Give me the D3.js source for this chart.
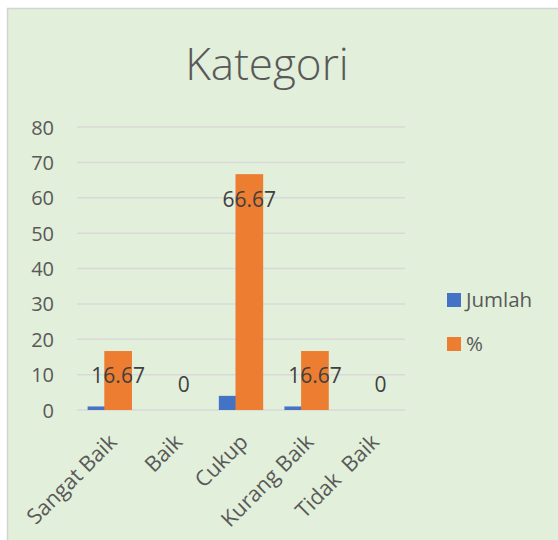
<!DOCTYPE html>
<html><head><meta charset="utf-8">
<script src="https://cdn.jsdelivr.net/npm/d3@7"></script>
<style>
html,body{margin:0;padding:0;background:#fff;}
svg{display:block;}
text{font-family:"Open Sans","Segoe UI",sans-serif;}
</style></head>
<body>
<script>
const categories = ["Sangat Baik","Baik","Cukup","Kurang Baik","Tidak  Baik"];
const jumlah = [1,0,4,1,0];
const persen = [16.67,0,66.67,16.67,0];
const seriesNames = ["Jumlah","%"];
const seriesColors = ["#4472C4","#ED7D31"];
const yTicks = [0,10,20,30,40,50,60,70,80];
const title = "Kategori";

const W=558,H=540;
const svg=d3.select("body").append("svg").attr("width",W).attr("height",H);
svg.append("rect").attr("x",7.5).attr("y",8.5).attr("width",W).attr("height",H)
  .attr("fill","#E2EFDA").attr("stroke","#D4D4D4").attr("stroke-width",1.5);

svg.append("text").attr("x",267).attr("y",80).attr("text-anchor","middle")
  .attr("font-size",44).attr("font-weight",300).attr("fill","#595959").text(title);

const plot={l:77,r:405,t:127,b:410};
const x=d3.scaleBand().domain(categories).range([plot.l,plot.r]).paddingInner(0).paddingOuter(0);
const y=d3.scaleLinear().domain([0,80]).range([plot.b,plot.t]);

const g=svg.append("g");
g.selectAll("line.grid").data(yTicks).join("line").attr("class","grid")
  .attr("x1",plot.l).attr("x2",plot.r).attr("y1",d=>y(d)).attr("y2",d=>y(d))
  .attr("stroke","#D9D9D9").attr("stroke-width",1.5);

const yAxis=d3.axisLeft(y).tickValues(yTicks).tickSize(0).tickPadding(0);
const ya=g.append("g").attr("transform",`translate(${plot.l-23},0)`).call(yAxis);
ya.select(".domain").remove();
ya.selectAll("text").attr("font-size",20).attr("fill","#595959").attr("font-family","Open Sans").attr("dy","0.35em");

const barW=x.bandwidth()*0.422;
const step=x.bandwidth()*0.254;
const series=[jumlah,persen];
series.forEach((vals,si)=>{
  g.selectAll("rect.s"+si).data(categories).join("rect").attr("class","s"+si)
   .attr("x",(c)=>x(c)+x.bandwidth()/2-(barW+step)/2+si*step)
   .attr("width",barW)
   .attr("y",(c,i)=>y(vals[i]))
   .attr("height",(c,i)=>y(0)-y(vals[i]))
   .attr("fill",seriesColors[si]);
});
// data labels for %
g.selectAll("text.lbl").data(categories).join("text").attr("class","lbl")
  .attr("x",c=>x(c)+x.bandwidth()/2-(barW+step)/2+step+barW/2)
  .attr("y",(c,i)=>persen[i]>0?y(persen[i])+25:y(0)-25)
  .attr("dy","0.35em").attr("text-anchor","middle")
  .attr("font-size",21).attr("fill","#404040")
  .text((c,i)=>String(persen[i]));

// x axis labels
g.selectAll("text.cat").data(categories).join("text").attr("class","cat")
  .attr("transform",c=>`translate(${x(c)+x.bandwidth()/2+3},${plot.b+28}) rotate(-45)`)
  .attr("text-anchor","end").attr("dy","0.35em")
  .attr("font-size",21.5).attr("fill","#595959")
  .style("white-space","pre").attr("xml:space","preserve")
  .text(c=>c);

// legend
const leg=svg.append("g");
seriesNames.forEach((n,i)=>{
  const ly=300+i*44;
  leg.append("rect").attr("x",447).attr("y",ly-7).attr("width",14).attr("height",14).attr("fill",seriesColors[i]);
  leg.append("text").attr("x",466).attr("y",ly).attr("dy","0.35em").attr("font-size",20.5).attr("fill","#595959").text(n);
});
</script>
</body></html>
